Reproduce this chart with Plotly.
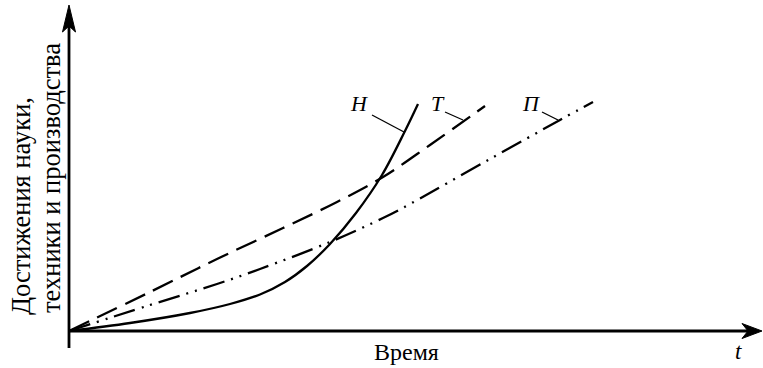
import plotly.graph_objects as go

# Data (arbitrary units: time t, achievement level)
# Н - наука (solid)
h_t = [0, 61, 121, 161, 191, 216, 238, 261, 287, 313, 336, 349]
h_v = [0, 8, 18, 27, 36.5, 49, 65, 87, 118, 156, 200, 227]
# Т - техника (dashed)
t_t = [0, 81, 148, 214, 268, 314, 361, 416]
t_v = [0, 39, 72, 103, 129, 154, 186, 225]
# П - производство (dash-dot-dot)
p_t = [0, 81, 148, 191, 261, 314, 341, 421, 491, 524]
p_v = [0, 26, 47, 62, 89, 113, 127, 172, 211, 229]

labels = ["Н", "Т", "П"]
label_pos = [(290, 228), (369, 228), (462, 228)]
leader = [((303, 216), (335, 199)), ((376, 219), (394, 211)), ((473, 219), (489, 211))]

FONT = "Liberation Serif"
INK = "#000000"

fig = go.Figure()
fig.add_trace(go.Scatter(x=h_t, y=h_v, mode="lines", line=dict(color=INK, width=2.3, shape="spline", smoothing=1.0), showlegend=False))
fig.add_trace(go.Scatter(x=t_t, y=t_v, mode="lines", line=dict(color=INK, width=2.3, shape="spline", smoothing=1.0, dash="22px,9px"), showlegend=False))
fig.add_trace(go.Scatter(x=p_t, y=p_v, mode="lines", line=dict(color=INK, width=2.3, shape="spline", smoothing=1.0, dash="22px,7px,2px,7px,2px,7px"), showlegend=False))

shapes = []
# axes
shapes.append(dict(type="line", x0=0, y0=-17, x1=0, y1=305, line=dict(color=INK, width=2.8)))
shapes.append(dict(type="line", x0=0, y0=0, x1=680, y1=0, line=dict(color=INK, width=2.8)))
# arrowheads
shapes.append(dict(type="path", path="M 0 326 L -6.5 299 L 0 305 L 6.5 299 Z", fillcolor=INK, line=dict(color=INK, width=1)))
shapes.append(dict(type="path", path="M 693 0 L 673 7.5 L 679 0 L 673 -7.5 Z", fillcolor=INK, line=dict(color=INK, width=1)))
# leader lines
for (a, b) in leader:
    shapes.append(dict(type="line", x0=a[0], y0=a[1], x1=b[0], y1=b[1], line=dict(color=INK, width=1.3)))

annotations = []
for lab, (x, y) in zip(labels, label_pos):
    annotations.append(dict(x=x, y=y, text="<i>" + lab + "</i>", showarrow=False,
                            font=dict(family=FONT, size=22, color=INK), xanchor="center", yanchor="middle"))
annotations.append(dict(x=337, y=-21, text="Время", showarrow=False,
                        font=dict(family=FONT, size=24, color=INK), xanchor="center", yanchor="middle"))
annotations.append(dict(x=669, y=-20, text="<i>t</i>", showarrow=False,
                        font=dict(family=FONT, size=23, color=INK), xanchor="center", yanchor="middle"))
annotations.append(dict(xref="paper", yref="paper", x=21 / 763, y=1 - 317 / 368, text="Достижения науки,",
                        textangle=-90, showarrow=False, xanchor="center", yanchor="bottom",
                        font=dict(family=FONT, size=26.5, color=INK)))
annotations.append(dict(xref="paper", yref="paper", x=51 / 763, y=1 - 315 / 368, text="техники и производства",
                        textangle=-90, showarrow=False, xanchor="center", yanchor="bottom",
                        font=dict(family=FONT, size=26.5, color=INK)))

fig.update_layout(
    width=763, height=368,
    margin=dict(l=0, r=0, t=0, b=0),
    paper_bgcolor="white", plot_bgcolor="white",
    xaxis=dict(range=[-69, 694], visible=False, fixedrange=True),
    yaxis=dict(range=[-37, 331], visible=False, fixedrange=True),
    shapes=shapes, annotations=annotations,
)

fig.write_html("out.html", config={"displayModeBar": False},
               post_script="document.body.style.margin='0';document.body.style.overflow='hidden';")
